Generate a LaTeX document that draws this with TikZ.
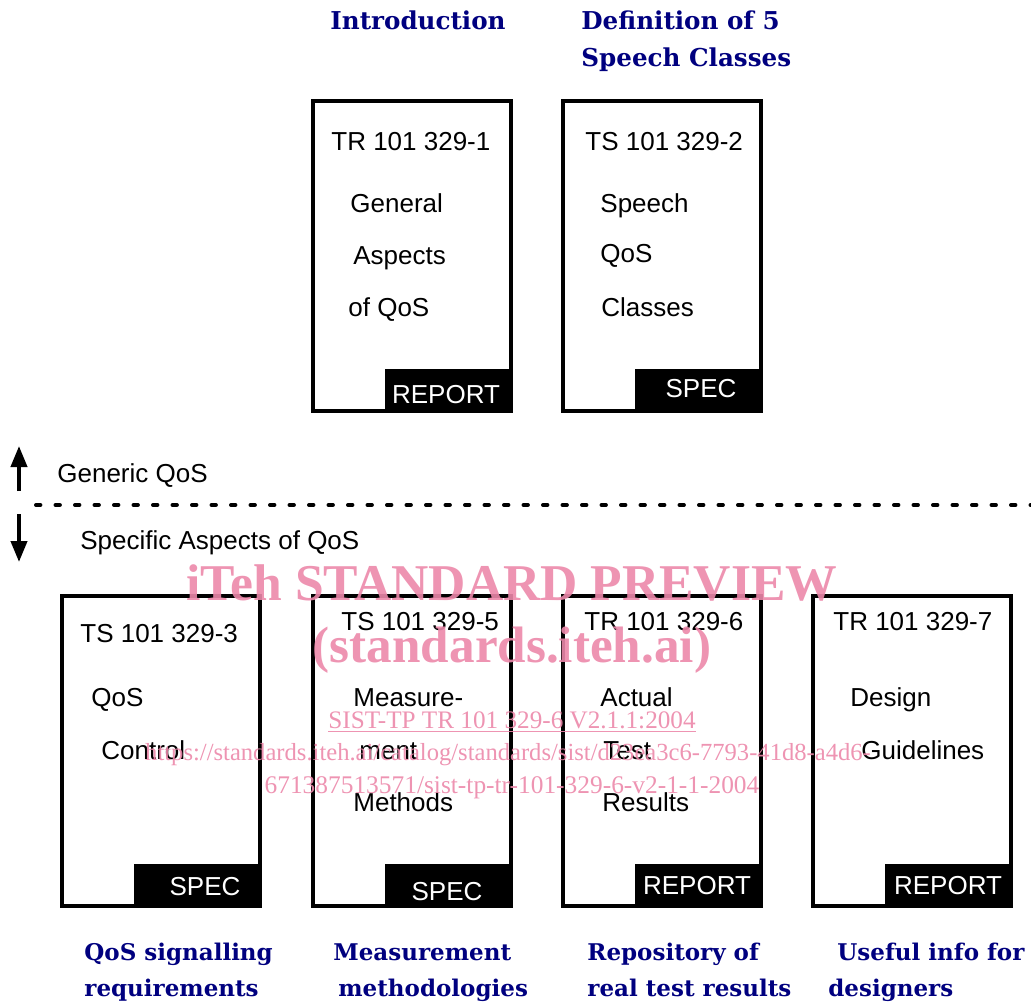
\documentclass[tikz,border=0pt]{standalone}
\usepackage{fontspec}
\setmainfont{Liberation Sans}
\newfontfamily\titlefont{DejaVu Serif}
\newfontfamily\wmfont{Liberation Serif}
\usepackage{tikz}
\usepackage{xcolor}
\usetikzlibrary{arrows.meta,positioning,calc}
\definecolor{ink}{HTML}{000000}
\definecolor{navy}{HTML}{00007F}
\definecolor{wmpink}{HTML}{EC88AA}
\tikzset{
  docbox/.style={draw=ink,line width=1.6pt,rectangle,anchor=north west,
                 outer sep=0pt,inner sep=0pt,minimum width=99pt,minimum height=155pt},
  doctab/.style={draw=ink,fill=ink,line width=1.6pt,rectangle,anchor=south east,
                 outer sep=0pt,inner sep=0pt,minimum width=62pt,minimum height=20pt},
  doctext/.style={anchor=base west,inner sep=0pt,font=\fontsize{13}{15}\selectfont},
  tabtext/.style={anchor=base,inner sep=0pt,text=white,font=\fontsize{13}{15}\selectfont},
  titletext/.style={anchor=base west,inner sep=0pt,text=navy,
                    font=\titlefont\bfseries\fontsize{12.3}{14}\selectfont},
  captext/.style={titletext,font=\titlefont\bfseries\fontsize{11.5}{14}\selectfont},
  wmtext/.style={anchor=base,inner sep=0pt,text=wmpink,opacity=0.9},
  levelarr/.style={-{Triangle[length=10.5pt,width=8pt]},line width=2pt,draw=ink},
  levelline/.style={line width=2pt,line cap=round,dash pattern=on 2.2pt off 7.55pt}
}
\begin{document}
\begin{tikzpicture}[x=0.5pt,y=-0.5pt]
    \path[use as bounding box] (0,0) rectangle (1031,1002);
    % headings above the generic parts
    \node[titletext] (hintro) at (330,29) {Introduction};
    \node[titletext] (hdefa) at (581,29) {Definition of 5};
    \node[titletext] (hdefb) at (581,66) {Speech Classes};
    % generic parts
    \node[docbox] (tr1) at (313,101) {};
    \node[doctab] (tr1tab) at (tr1.south east) {};
    \node[tabtext] (tr1kind) at (446,403) {REPORT};
    \node[doctext] (tr1id) at (331,150) {TR 101 329-1};
    \node[doctext] (tr1a) at (350,212) {General};
    \node[doctext] (tr1b) at (353,264) {Aspects};
    \node[doctext] (tr1c) at (348,316) {of QoS};
    \node[docbox] (ts2) at (563,101) {};
    \node[doctab] (ts2tab) at (ts2.south east) {};
    \node[tabtext] (ts2kind) at (701,397) {SPEC};
    \node[doctext] (ts2id) at (585,150) {TS 101 329-2};
    \node[doctext] (ts2a) at (600,212) {Speech};
    \node[doctext] (ts2b) at (600,262) {QoS};
    \node[doctext] (ts2c) at (601,316) {Classes};
    % split between generic and specific parts
    \coordinate (upfrom) at (19,491);
    \coordinate (upto) at (19,446);
    \coordinate (downfrom) at (19,514);
    \coordinate (downto) at (19,562);
    \coordinate (splitl) at (36,505);
    \coordinate (splitr) at (1031,505);
    \draw[levelarr] (upfrom) -- (upto);
    \draw[levelarr] (downfrom) -- (downto);
    \draw[levelline] (splitl) -- (splitr);
    \node[doctext] (generic) at (57,482) {Generic QoS};
    \node[doctext] (specific) at (80,549) {Specific Aspects of QoS};
    % specific parts
    \node[docbox] (ts3) at (62,596) {};
    \node[doctab] (ts3tab) at (ts3.south east) {};
    \node[tabtext] (ts3kind) at (205,895) {SPEC};
    \node[doctext] (ts3id) at (80,642) {TS 101 329-3};
    \node[doctext] (ts3a) at (91,706) {QoS};
    \node[doctext] (ts3b) at (101,759) {Control};
    \node[docbox] (ts5) at (313,596) {};
    \node[doctab] (ts5tab) at (ts5.south east) {};
    \node[tabtext] (ts5kind) at (447,900) {SPEC};
    \node[doctext] (ts5id) at (341,630) {TS 101 329-5};
    \node[doctext] (ts5a) at (353,706) {Measure-};
    \node[doctext] (ts5b) at (359,759) {ment};
    \node[doctext] (ts5c) at (353,811) {Methods};
    \node[docbox] (tr6) at (563,596) {};
    \node[doctab] (tr6tab) at (tr6.south east) {};
    \node[tabtext] (tr6kind) at (697,894) {REPORT};
    \node[doctext] (tr6id) at (584,630) {TR 101 329-6};
    \node[doctext] (tr6a) at (600,706) {Actual};
    \node[doctext] (tr6b) at (603,759) {Test};
    \node[doctext] (tr6c) at (602,811) {Results};
    \node[docbox] (tr7) at (813,596) {};
    \node[doctab] (tr7tab) at (tr7.south east) {};
    \node[tabtext] (tr7kind) at (948,894) {REPORT};
    \node[doctext] (tr7id) at (833,630) {TR 101 329-7};
    \node[doctext] (tr7a) at (850,706) {Design};
    \node[doctext] (tr7b) at (861,759) {Guidelines};
    % captions under the specific parts
    \node[captext] (c3a) at (84,960) {QoS signalling};
    \node[captext] (c3b) at (84,996) {requirements};
    \node[captext] (c5a) at (333,960) {Measurement};
    \node[captext] (c5b) at (338,996) {methodologies};
    \node[captext] (c6a) at (587,960) {Repository of};
    \node[captext] (c6b) at (587,996) {real test results};
    \node[captext] (c7a) at (837,960) {Useful info for};
    \node[captext] (c7b) at (828,996) {designers};
    % preview watermark
    \node[wmtext,font=\wmfont\bfseries\fontsize{25.8}{28}\selectfont] (wm1) at (512,600)
      {iTeh STANDARD PREVIEW};
    \node[wmtext,font=\wmfont\bfseries\fontsize{25.6}{28}\selectfont] (wm2) at (512,662)
      {(standards.iteh.ai)};
    \node[wmtext,font=\wmfont\fontsize{12.6}{14}\selectfont] (wm3) at (512,728)
      {\underline{SIST-TP TR 101 329-6 V2.1.1:2004}};
    \node[wmtext,font=\wmfont\fontsize{12.3}{14}\selectfont] (wm4) at (508,760)
      {https://standards.iteh.ai/catalog/standards/sist/d23ea3c6-7793-41d8-a4d6-};
    \node[wmtext,font=\wmfont\fontsize{12.7}{14}\selectfont] (wm5) at (512,793)
      {671387513571/sist-tp-tr-101-329-6-v2-1-1-2004};
\end{tikzpicture}
\end{document}
